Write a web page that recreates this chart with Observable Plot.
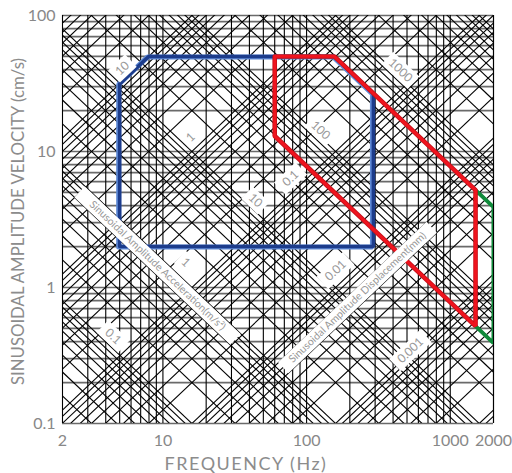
<!DOCTYPE html>
<html><head><meta charset="utf-8">
<script src="https://cdn.jsdelivr.net/npm/d3@7"></script>
<script src="https://cdn.jsdelivr.net/npm/@observablehq/plot@0.6"></script>
<style>body{margin:0;background:#fff;}</style>
</head><body><div id="chart"></div>
<script>
// ---- data ----
const xTicks = [2, 10, 100, 1000, 2000];
const yTicks = [0.1, 1, 10, 100];
const multipliers = [1, 2, 3, 4, 5, 6, 7, 8, 9];
const freqDecades = [1, 10, 100, 1000];
const velDecades = [0.1, 1, 10, 100];
const accelDecades = [0.01, 0.1, 1, 10, 100, 1000, 10000];      // m/s^2
const dispDecades = [0.00001, 0.0001, 0.001, 0.01, 0.1, 1, 10];  // mm

const blueFreq = [5, 5, 7.96, 156, 292, 292, 5];
const blueVel  = [2, 31.4, 50, 50, 26.7, 2, 2];
const redFreq  = [60, 60, 1500, 1500, 156, 60];
const redVel   = [50, 13.0, 0.52, 5.2, 50, 50];
const greenFreq = [1500, 2000, 2000, 1500];
const greenVel  = [5.2, 3.9, 0.39, 0.52];

const accelLabels = ["0.1", "1", "10", "100", "1000"];
const accelLabelFreq = [4.5, 14.4, 44, 125, 450];
const accelLabelVel = [0.436, 1.53, 4.36, 14.3, 39.5];
const dispLabels = ["10", "1", "0.1", "0.01", "0.001"];
const dispLabelFreq = [5.23, 15.6, 77.3, 159, 528];
const dispLabelVel = [40.8, 12.7, 6.33, 1.33, 0.344];
const titleTexts = ["Sinusoidal Amplitude Acceleration(m/s²)", "Sinusoidal Amplitude Displacement(mm)"];
const titleFreq = [9.17, 226];
const titleVel = [1.45, 0.845];
const titleDir = [1, -1];

// ---- layout ----
const W = 512, H = 473, mL = 62, mR = 19, mT = 15, mB = 50;
const xDomain = [2, 2000], yDomain = [0.1, 100];
const pxX = (W - mL - mR) / Math.log10(xDomain[1] / xDomain[0]);
const pxY = (H - mT - mB) / Math.log10(yDomain[1] / yDomain[0]);
const angle = Math.atan(pxY / pxX) * 180 / Math.PI;
const diagPx = Math.hypot(pxX, pxY);

const vGrid = [];
for (const d of freqDecades) for (const m of multipliers) { const f = d * m; if (f >= 2 && f <= 2000) vGrid.push(f); }
vGrid.push(2000);
const hGrid = [];
for (const d of velDecades) for (const m of multipliers) { const v = d * m; if (v >= 0.1 && v <= 100) hGrid.push(v); }

const fLo = 1, fHi = 4000;
const accelLines = [], dispLines = [];
for (const d of accelDecades) for (const m of multipliers) {
  const a = d * m;
  accelLines.push({x1: fLo, y1: 100 * a / (2 * Math.PI * fLo), x2: fHi, y2: 100 * a / (2 * Math.PI * fHi)});
}
for (const d of dispDecades) for (const m of multipliers) {
  const s = d * m;
  dispLines.push({x1: fLo, y1: 0.1 * 2 * Math.PI * fLo * s, x2: fHi, y2: 0.1 * 2 * Math.PI * fHi * s});
}

const toPts = (F, V) => F.map((f, i) => ({f, v: V[i]}));

function band(f, v, len, dir) { // dir 1: down-right, -1: up-right
  const h = (len / 2) / diagPx, k = Math.pow(10, h);
  return dir === 1 ? {x1: f / k, y1: v * k, x2: f * k, y2: v / k}
                   : {x1: f / k, y1: v / k, x2: f * k, y2: v * k};
}
const small = [];
accelLabels.forEach((t, i) => small.push({t, f: accelLabelFreq[i], v: accelLabelVel[i], dir: 1}));
dispLabels.forEach((t, i) => small.push({t, f: dispLabelFreq[i], v: dispLabelVel[i], dir: -1}));
const smallBands = small.map(d => band(d.f, d.v, d.t.length * 6.5 + 10, d.dir));
const titles = titleTexts.map((t, i) => ({t, f: titleFreq[i], v: titleVel[i], dir: titleDir[i]}));
const titleBands = titles.map(d => band(d.f, d.v, d.t.length * 5.2 + 12, d.dir));

const xTickRows = xTicks.map(f => ({f}));
const yTickRows = yTicks.map(v => ({v}));
const xTitle = "FREQUENCY (Hz)";
const yTitle = "SINUSOIDAL AMPLITUDE VELOCITY (cm/s)";

const chart = Plot.plot({
  width: W, height: H,
  marginLeft: mL, marginRight: mR, marginTop: mT, marginBottom: mB,
  style: {fontFamily: "Lato, 'Open Sans', sans-serif", color: "#888", background: "#fff"},
  x: {type: "log", domain: xDomain, axis: null},
  y: {type: "log", domain: yDomain, axis: null},
  marks: [
    Plot.ruleY(hGrid, {stroke: "#6a6a6a", strokeWidth: 1.7}),
    Plot.ruleX(vGrid, {stroke: "#000", strokeWidth: 1.1}),
    Plot.link(accelLines, {x1: "x1", y1: "y1", x2: "x2", y2: "y2", stroke: "#000", strokeWidth: 1.1, clip: true}),
    Plot.link(dispLines, {x1: "x1", y1: "y1", x2: "x2", y2: "y2", stroke: "#000", strokeWidth: 1.1, clip: true}),
    // test profiles
    Plot.line(toPts(greenFreq, greenVel), {x: "f", y: "v", stroke: "#0f8a3a", strokeWidth: 4, strokeLinejoin: "miter", clip: true}),
    Plot.line(toPts(blueFreq, blueVel), {x: "f", y: "v", stroke: "#5f8ad6", strokeWidth: 5, dx: -1, dy: 0.5, strokeLinejoin: "miter"}),
    Plot.line(toPts(blueFreq, blueVel), {x: "f", y: "v", stroke: "#1c3c8c", strokeWidth: 3.6, strokeLinejoin: "miter"}),
    Plot.line(toPts(redFreq, redVel), {x: "f", y: "v", stroke: "#c8101a", strokeWidth: 4.6, strokeLinejoin: "miter"}),
    Plot.line(toPts(redFreq, redVel), {x: "f", y: "v", stroke: "#f0141e", strokeWidth: 2.8, strokeLinejoin: "miter"}),
    // label backgrounds
    Plot.link(titleBands, {x1: "x1", y1: "y1", x2: "x2", y2: "y2", stroke: "#fff", strokeWidth: 15, strokeLinecap: "butt"}),
    Plot.link(smallBands, {x1: "x1", y1: "y1", x2: "x2", y2: "y2", stroke: "#fff", strokeWidth: 17, strokeLinecap: "butt"}),
    Plot.text(titles, {x: "f", y: "v", text: "t", rotate: d => d.dir * angle, fontSize: 10.5, fill: "#999"}),
    Plot.text(small, {x: "f", y: "v", text: "t", rotate: d => d.dir * angle, fontSize: 12, fill: "#999"}),
    // tick labels
    Plot.text(xTickRows, {x: "f", text: d => String(d.f), frameAnchor: "bottom", lineAnchor: "middle", dy: 17, fontSize: 16, fill: "#888"}),
    Plot.text(yTickRows, {y: "v", text: d => String(d.v), frameAnchor: "left", textAnchor: "end", dx: -7, fontSize: 16, fill: "#888"}),
    // axis titles
    Plot.text([xTitle], {text: d => d, frameAnchor: "bottom", lineAnchor: "middle", dy: 41, dx: -32, fontSize: 18, fill: "#8c8c8c"}),
    Plot.text([yTitle], {text: d => d, frameAnchor: "left", textAnchor: "middle", lineAnchor: "middle", rotate: -90, dx: -44, dy: 2, fontSize: 16.8, fill: "#8c8c8c"})
  ]
});
d3.select(chart).selectAll("text").filter(function() { return this.textContent === xTitle; }).attr("letter-spacing", "1.5px");
document.getElementById("chart").appendChild(chart);
</script>
</body></html>
